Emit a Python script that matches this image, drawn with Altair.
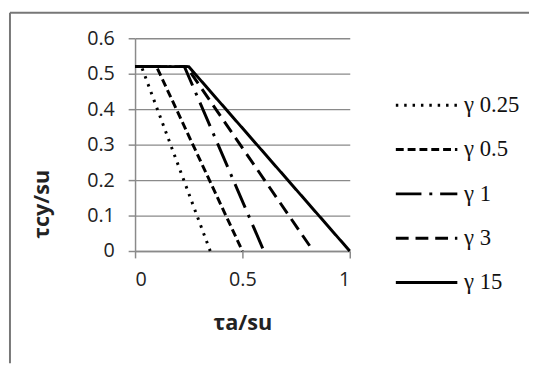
import altair as alt
import pandas as pd

series = ["γ 0.25", "γ 0.5", "γ 1", "γ 3", "γ 15"]
plateau = [0.52, 0.52, 0.52, 0.52, 0.52]
break_x = [0.03, 0.10, 0.23, 0.24, 0.25]
end_x = [0.35, 0.50, 0.60, 0.83, 1.00]
dashes = [[2.5, 6], [8, 4], [26, 8, 3, 8], [13, 7], [1, 0]]

x_ticks = [0, 0.5, 1]
y_ticks = [0, 0.1, 0.2, 0.3, 0.4, 0.5, 0.6]

rows = []
for s, p, b, e in zip(series, plateau, break_x, end_x):
    rows.append({"series": s, "ta": 0.0, "tcy": p, "o": 0})
    rows.append({"series": s, "ta": b, "tcy": p, "o": 1})
    rows.append({"series": s, "ta": e, "tcy": 0.0, "o": 2})
df = pd.DataFrame(rows)

W, H = 218, 216

lines = alt.Chart(df).mark_line(color="black", strokeWidth=3).encode(
    x=alt.X("ta:Q", scale=alt.Scale(domain=[0, 1], nice=False),
            axis=alt.Axis(values=x_ticks, format="~g", grid=False, title="τa/su",
                          tickSize=7, labelPadding=12, titleX=W / 2, titleY=73,
                          titleBaseline="middle")),
    y=alt.Y("tcy:Q", scale=alt.Scale(domain=[0, 0.6], nice=False),
            axis=alt.Axis(values=y_ticks, format="~g", grid=True, title="τcy/su",
                          tickSize=7, labelPadding=14, titleX=-95, titleY=168,
                          titleBaseline="middle")),
    strokeDash=alt.StrokeDash("series:N", sort=series,
                              scale=alt.Scale(domain=series, range=dashes),
                              legend=alt.Legend(title=None, orient="none", legendX=263, legendY=35,
                                                symbolType="stroke", symbolSize=3900,
                                                symbolStrokeWidth=3, symbolStrokeColor="black",
                                                labelFont="Liberation Serif", labelFontSize=23,
                                                labelColor="#111", labelOffset=5, rowPadding=-21)),
    order="o:Q",
)

frame = alt.Chart(pd.DataFrame({"a": [0]})).mark_rule(color="#777", strokeWidth=2).encode(
    x=alt.value(-127), y=alt.value(-26), y2=alt.value(330)
)
frame_top = alt.Chart(pd.DataFrame({"a": [0]})).mark_rule(color="#777", strokeWidth=2).encode(
    x=alt.value(-127), x2=alt.value(400), y=alt.value(-26)
)

chart = alt.layer(lines, frame, frame_top).properties(
    width=W, height=H,
    background="white",
    autosize=alt.AutoSizeParams(type="none"),
    padding={"left": 129, "top": 28, "right": 183, "bottom": 113},
).configure_view(stroke=None).configure_axis(
    domainColor="#8a8a8a", domainWidth=1.5, tickColor="#8a8a8a", tickWidth=1.5,
    gridColor="#8a8a8a", gridWidth=1.3, gridOpacity=1,
    labelFont="Open Sans", labelFontSize=20, labelColor="#222",
    titleFont="Open Sans", titleFontSize=22, titleFontWeight="bold", titleColor="#222",
)

chart.save("out.html", embed_options={"renderer": "svg", "actions": False})
